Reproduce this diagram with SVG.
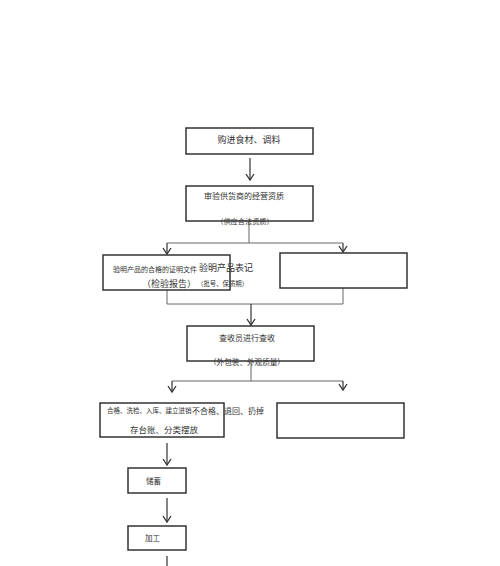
<svg xmlns="http://www.w3.org/2000/svg" width="500" height="566" viewBox="0 0 500 566">
<defs>
<style>
.box{fill:#fff;stroke:#333;stroke-width:1.5}
.ln{fill:none;stroke:#666;stroke-width:1}
.ar{fill:none;stroke:#333;stroke-width:1.2}
text{font-family:"Liberation Serif","Noto Sans CJK SC",serif;fill:#333}
</style>
<marker id="v" markerWidth="10" markerHeight="10" refX="7" refY="5" orient="auto" markerUnits="userSpaceOnUse" viewBox="0 0 10 10">
<path d="M1,1 L7,5 L1,9" fill="none" stroke="#333" stroke-width="1.3"/>
</marker>
</defs>
<rect width="500" height="566" fill="#fff"/>
<g id="connectors">
<line class="ar" x1="250" y1="158" x2="250" y2="180" marker-end="url(#v)"/>
<polyline class="ln" points="249,221 249,243"/>
<polyline class="ln" points="167,243 343,243"/>
<line class="ar" x1="167" y1="243" x2="167" y2="254" marker-end="url(#v)"/>
<line class="ar" x1="343" y1="243" x2="343" y2="252" marker-end="url(#v)"/>
<polyline class="ln" points="167,290 167,304 343,304 343,288"/>
<line class="ar" x1="251" y1="304" x2="251" y2="325" marker-end="url(#v)"/>
<polyline class="ln" points="251,362 251,381"/>
<polyline class="ln" points="172,381 343,381"/>
<line class="ar" x1="172" y1="381" x2="172" y2="392" marker-end="url(#v)"/>
<line class="ar" x1="343" y1="381" x2="343" y2="390" marker-end="url(#v)"/>
<line class="ar" x1="167" y1="443" x2="167" y2="465" marker-end="url(#v)"/>
<line class="ar" x1="167" y1="498" x2="167" y2="522" marker-end="url(#v)"/>
<line class="ar" x1="167" y1="556" x2="167" y2="566"/>
</g>
<g id="n1">
<rect class="box" x="186" y="128" width="127" height="26"/>
<text x="249" y="143" font-size="9" text-anchor="middle">购进食材、调料</text>
</g>
<g id="n2">
<rect class="box" x="186" y="186" width="127" height="35"/>
<text x="244" y="199" font-size="8" text-anchor="middle">审验供货商的经营资质</text>
<text x="245" y="224" font-size="7.2" text-anchor="middle">（供应合法资质）</text>
</g>
<g id="n3">
<rect class="box" x="103" y="255" width="127" height="35"/>
<text x="113" y="272" font-size="7">验明产品的合格的证明文件</text>
<text x="199" y="271" font-size="9">验明产品表记</text>
<text x="142" y="287" font-size="9">（检验报告）</text>
<text x="197" y="286" font-size="6.4">（批号、保质期）</text>
</g>
<g id="n4">
<rect class="box" x="280" y="253" width="127" height="35"/>
</g>
<g id="n5">
<rect class="box" x="187" y="326" width="127" height="35"/>
<text x="247" y="341" font-size="8" text-anchor="middle">查收员进行查收</text>
<text x="247" y="365" font-size="7.6" text-anchor="middle">（外包装、外观质量）</text>
</g>
<g id="n6">
<rect class="box" x="100" y="403" width="124" height="34"/>
<text x="107" y="413" font-size="6.5">合格、洗检、入库、建立进销</text>
<text x="192" y="414" font-size="8">不合格、退回、扔掉</text>
<text x="130" y="433" font-size="8.5">存台账、分类摆放</text>
</g>
<g id="n7">
<rect class="box" x="277" y="403" width="127" height="35"/>
</g>
<g id="n8">
<rect class="box" x="128" y="468" width="58" height="25"/>
<text x="146" y="484" font-size="7.5">储蓄</text>
</g>
<g id="n9">
<rect class="box" x="128" y="526" width="58" height="24"/>
<text x="145" y="541" font-size="7.5">加工</text>
</g>
</svg>
